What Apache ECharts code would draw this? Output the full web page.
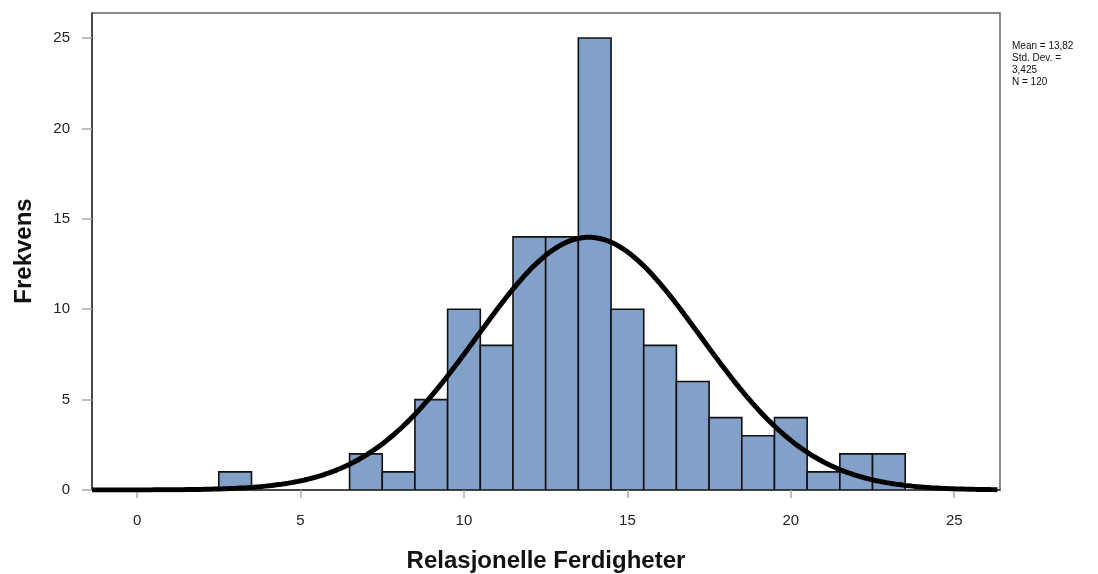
<!DOCTYPE html>
<html>
<head>
<meta charset="utf-8">
<script src="https://cdn.jsdelivr.net/npm/echarts@6/dist/echarts.min.js"></script>
<style>
  html, body { margin: 0; padding: 0; background: #fff; }
  #chart { width: 1098px; height: 574px; }
</style>
</head>
<body>
<div id="chart"></div>
<script>
// Histogram bins: centre of each unit-wide bin and its count
const binCenters = [3, 7, 8, 9, 10, 11, 12, 13, 14, 15, 16, 17, 18, 19, 20, 21, 22, 23];
const binCounts  = [1, 2, 1, 5, 10, 8, 14, 14, 25, 10, 8, 6, 4, 3, 4, 1, 2, 2];
const xTicks = [0, 5, 10, 15, 20, 25];
const yTicks = [0, 5, 10, 15, 20, 25];

// Summary statistics shown beside the plot
const MEAN = 13.82;
const SD = 3.425;
const N = 120;
const BIN_WIDTH = 1;
const statLines = ['Mean = 13,82', 'Std. Dev. =', '3,425', 'N = 120'];

const X_MIN = -1.38, X_MAX = 26.4, Y_MAX = 26.38;

// Fitted normal curve scaled to counts (N * bin width * density)
const curve = [];
for (let x = X_MIN; x <= X_MAX + 1e-9; x += 0.1) {
  const z = (x - MEAN) / SD;
  const y = N * BIN_WIDTH * Math.exp(-0.5 * z * z) / (SD * Math.sqrt(2 * Math.PI));
  curve.push([x, y]);
}

const bars = binCenters.map((c, i) => [c, binCounts[i]]);
const FONT = '"Liberation Sans", Arial, sans-serif';

const chart = echarts.init(document.getElementById('chart'), null, { renderer: 'canvas' });
chart.setOption({
  animation: false,
  backgroundColor: '#ffffff',
  grid: {
    left: 92, right: 98, top: 13, bottom: 84,
    show: true, borderColor: '#666', borderWidth: 1.5, backgroundColor: 'transparent'
  },
  xAxis: {
    type: 'value', min: X_MIN, max: X_MAX,
    axisLine: { show: true, onZero: false, lineStyle: { color: '#333', width: 1.5 } },
    axisTick: { show: true, length: 8, lineStyle: { color: '#aaa', width: 1.5 }, customValues: xTicks },
    axisLabel: { customValues: xTicks, color: '#222', fontSize: 15, fontFamily: FONT, margin: 23 },
    splitLine: { show: false }
  },
  yAxis: {
    type: 'value', min: 0, max: Y_MAX,
    axisLine: { show: true, onZero: false, lineStyle: { color: '#333', width: 1.5 } },
    axisTick: { show: true, length: 10, lineStyle: { color: '#aaa', width: 1.5 }, customValues: yTicks },
    axisLabel: { customValues: yTicks, color: '#222', fontSize: 15, fontFamily: FONT, margin: 22 },
    splitLine: { show: false }
  },
  series: [
    {
      type: 'custom',
      data: bars,
      clip: true,
      renderItem: function (params, api) {
        const c = api.value(0), v = api.value(1);
        const p0 = api.coord([c - BIN_WIDTH / 2, v]);
        const p1 = api.coord([c + BIN_WIDTH / 2, 0]);
        return {
          type: 'rect',
          shape: { x: p0[0], y: p0[1], width: p1[0] - p0[0], height: p1[1] - p0[1] },
          style: { fill: '#82a0c8', stroke: '#111', lineWidth: 1.6 }
        };
      },
      z: 2
    },
    {
      type: 'line',
      data: curve,
      showSymbol: false,
      smooth: false,
      clip: true,
      lineStyle: { color: '#000', width: 5 },
      z: 3
    }
  ],
  graphic: [
    {
      type: 'text', x: 24, y: 251, rotation: Math.PI / 2,
      style: { text: 'Frekvens', font: 'bold 24px ' + FONT, fill: '#111', textAlign: 'center', textVerticalAlign: 'middle' }
    },
    {
      type: 'text', x: 546, y: 561,
      style: { text: 'Relasjonelle Ferdigheter', font: 'bold 24px ' + FONT, fill: '#111', textAlign: 'center', textVerticalAlign: 'middle' }
    },
    {
      type: 'text', x: 1012, y: 40,
      style: { text: statLines.join('\n'), font: '10px ' + FONT, fill: '#111', lineHeight: 12, textAlign: 'left', textVerticalAlign: 'top' }
    }
  ]
});
</script>
</body>
</html>
